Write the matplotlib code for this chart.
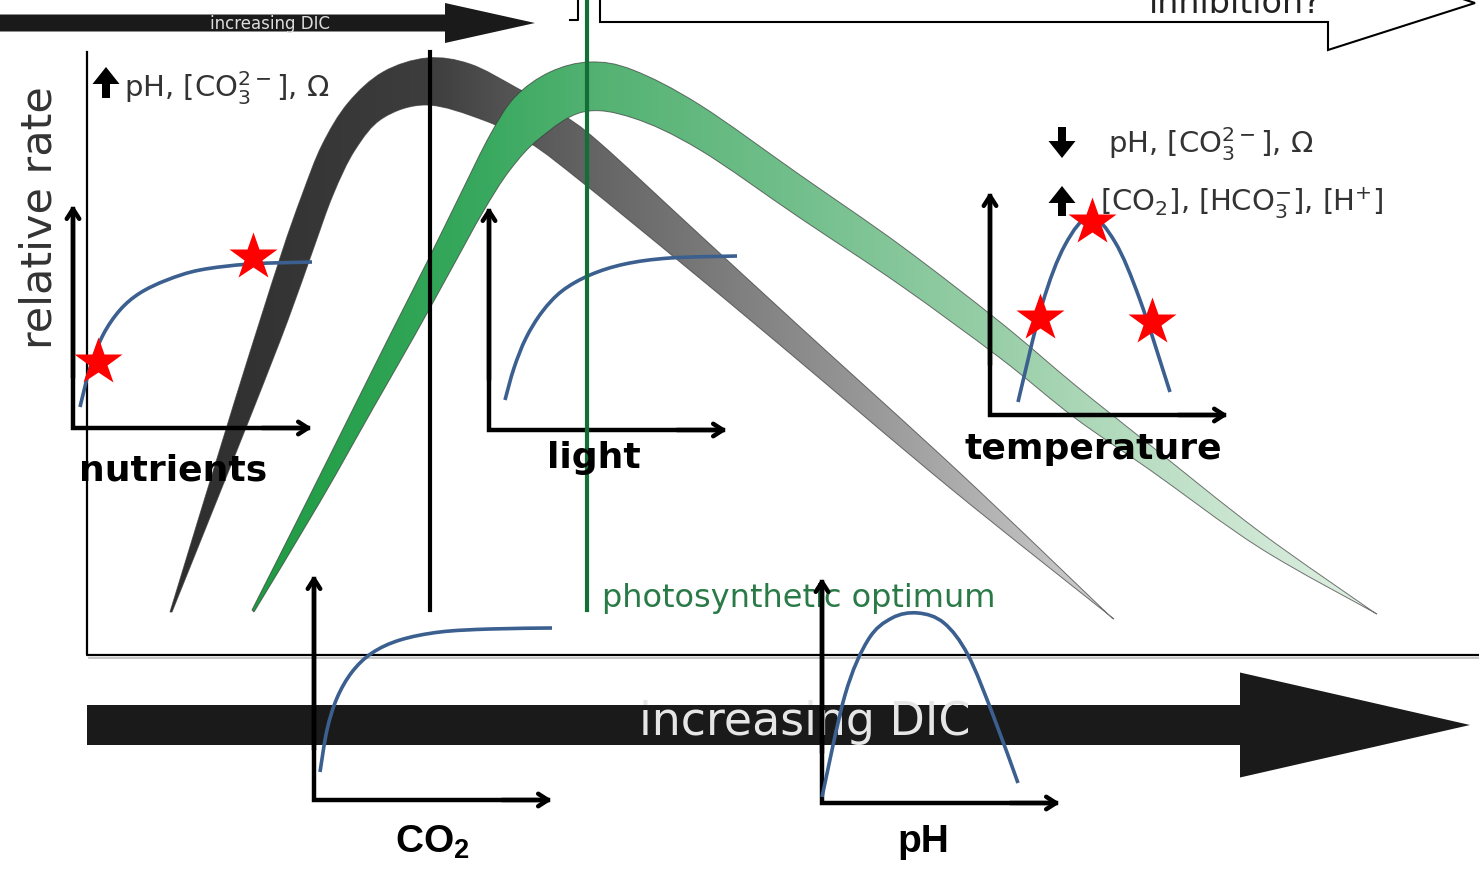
import numpy as np
import matplotlib
matplotlib.use('Agg')
import matplotlib.pyplot as plt
from matplotlib.patches import Polygon, FancyArrow, PathPatch
from matplotlib.path import Path

plt.rcParams['font.family'] = ['DejaVu Sans']
plt.rcParams['mathtext.fontset'] = 'custom'
plt.rcParams['mathtext.rm'] = 'DejaVu Sans'
plt.rcParams['mathtext.it'] = 'DejaVu Sans:italic'
plt.rcParams['mathtext.bf'] = 'Liberation Sans:bold'

# grey band (calcification), outer and inner edge
gray_out_x = [170, 235, 280, 302, 322, 348, 383, 427, 470, 517, 560, 600, 700, 800, 960, 1112]
gray_out_y = [612, 400, 258, 195, 145, 103, 72, 58, 64, 88, 113, 143, 235, 327, 473, 618]
gray_in_x = [172, 215, 255, 288, 313, 333, 355, 383, 427, 483, 530, 583, 680, 780, 950, 1114]
gray_in_y = [612, 505, 405, 320, 250, 195, 150, 118, 105, 120, 143, 183, 262, 345, 488, 619]
gray_ramp_x = [170, 430, 520, 700, 900, 1115]
gray_ramp_v = [0.18, 0.24, 0.34, 0.47, 0.62, 0.82]

# green band (photosynthesis)
green_out_x = [252, 305, 350, 390, 427, 460, 490, 515, 550, 590, 633, 700, 800, 900, 1000, 1075, 1150, 1260, 1375]
green_out_y = [610, 505, 415, 335, 262, 195, 135, 97, 72, 62, 70, 105, 175, 245, 322, 385, 445, 532, 613]
green_in_x = [254, 320, 375, 415, 452, 483, 510, 540, 583, 633, 700, 800, 900, 1000, 1075, 1150, 1260, 1377]
green_in_y = [612, 502, 405, 335, 268, 212, 170, 138, 112, 118, 150, 218, 285, 358, 418, 470, 548, 614]
green_ramp_x = [252, 480, 600, 800, 1000, 1200, 1375]
green_ramp_c = [(0.12, 0.61, 0.26), (0.22, 0.66, 0.37), (0.33, 0.70, 0.45), (0.45, 0.75, 0.55),
                (0.60, 0.81, 0.66), (0.77, 0.89, 0.80), (0.88, 0.94, 0.89)]

# inset response curves
nut_x = [80, 90, 103, 120, 140, 167, 200, 250, 312]
nut_y = [407, 368, 335, 310, 293, 280, 270, 264, 262]
nut_star_x = [98, 253]
nut_star_y = [362, 257]
light_x = [505, 514, 526, 542, 562, 590, 625, 670, 737]
light_y = [400, 368, 338, 312, 291, 275, 264, 258, 256]
temp_x = [1018, 1042, 1065, 1090, 1115, 1140, 1170]
temp_y = [402, 305, 245, 217, 242, 300, 392]
temp_star_x = [1040, 1092, 1152]
temp_star_y = [318, 222, 322]
co2_x = [320, 327, 337, 352, 372, 400, 440, 490, 552]
co2_y = [772, 730, 698, 672, 653, 640, 632, 629, 628]
ph_x = [822, 845, 868, 892, 918, 944, 968, 993, 1018]
ph_y = [797, 695, 640, 618, 613, 623, 655, 715, 783]

# inset axes: corner x, corner y, top y, right x
insets = [(73, 428, 205, 312), (489, 430, 207, 727), (990, 415, 192, 1228),
          (314, 800, 575, 552), (822, 803, 578, 1060)]

blue = '#3b5f8f'
dark_green = '#146e37'

fig = plt.figure(figsize=(14.79, 8.72), dpi=100)
ax = fig.add_axes([0, 0, 1, 1])
ax.set_xlim(0, 1479)
ax.set_ylim(872, 0)
ax.axis('off')


def bezier(xs, ys):
    # cubic bezier pieces through the given points (catmull-rom style)
    p = np.column_stack([xs, ys]).astype(float)
    n = len(p)
    verts = []
    for i in range(n - 1):
        p0, p1, p2, p3 = p[max(i - 1, 0)], p[i], p[i + 1], p[min(i + 2, n - 1)]
        verts += [p1 + (p2 - p0) / 6, p2 - (p3 - p1) / 6, p2]
    return p[0], verts


def curve(xs, ys, **kw):
    start, verts = bezier(xs, ys)
    path = Path([start] + verts, [Path.MOVETO] + [Path.CURVE4] * len(verts))
    ax.add_patch(PathPatch(path, facecolor='none', **kw))


def band(xo, yo, xi, yi, rx, rc, z):
    s1, v1 = bezier(xo, yo)
    s2, v2 = bezier(xi[::-1], yi[::-1])
    verts = [s1] + v1 + [s2] + v2 + [s1]
    codes = ([Path.MOVETO] + [Path.CURVE4] * len(v1) + [Path.LINETO]
             + [Path.CURVE4] * len(v2) + [Path.CLOSEPOLY])
    poly = PathPatch(Path(verts, codes), facecolor='none', edgecolor='#3a3a3a',
                     lw=0.7, alpha=0.7, zorder=z + 0.1)
    ax.add_patch(poly)
    xs = np.r_[xo, xi]
    ys = np.r_[yo, yi]
    ramp = np.linspace(min(xs), max(xs), 600)
    rc = np.array(rc)
    rgb = np.stack([np.interp(ramp, rx, rc[:, k]) for k in range(3)], axis=-1)[None, :, :]
    im = ax.imshow(rgb, extent=[min(xs), max(xs), max(ys) + 5, min(ys) - 5],
                   aspect='auto', zorder=z, interpolation='bilinear')
    im.set_clip_path(poly)


# frame of the main plot
ax.plot([87, 87, 1479], [52, 655, 655], color='black', lw=1.6, zorder=1)
ax.plot([89, 1479], [658, 658], color='#bbbbbb', lw=1.2, zorder=1)

band(gray_out_x, gray_out_y, gray_in_x, gray_in_y, gray_ramp_x,
     [(v, v, v) for v in gray_ramp_v], 2)
band(green_out_x, green_out_y, green_in_x, green_in_y, green_ramp_x, green_ramp_c, 3)

# optimum lines
ax.plot([430, 430], [52, 610], color='black', lw=3, zorder=4)
ax.plot([587, 587], [0, 610], color=dark_green, lw=3, zorder=7)

# big arrow at the bottom
ax.add_patch(FancyArrow(87, 725, 1383, 0, width=40, head_width=105, head_length=230,
                        length_includes_head=True, color='#1a1a1a', lw=0, zorder=2))
ax.text(805, 722, 'increasing DIC', color='#e6e6e6', fontsize=33, ha='center', va='center', zorder=3)

# small arrow at the top left
ax.add_patch(FancyArrow(0, 23, 535, 0, width=17, head_width=40, head_length=90,
                        length_includes_head=True, color='#1a1a1a', lw=0, zorder=2))
ax.text(270, 24, 'increasing DIC', color='#dddddd', fontsize=12, ha='center', va='center', zorder=3)

# inhibition arrow at the top right
ax.plot([570, 578, 578], [20, 20, -2], color='black', lw=1.5, zorder=2)
ax.add_patch(Polygon([(600, -40), (600, 22), (1328, 22), (1328, 50), (1475, 3), (1328, -45)],
                     closed=True, facecolor='white', edgecolor='black', lw=1.5, zorder=2))
ax.text(1235, 13, 'inhibition?', fontsize=24, color='#222222', ha='center', va='baseline', zorder=3)

# inset axes
for cx, cy, ty, rx in insets:
    ax.plot([cx, cx, rx - 4], [ty + 4, cy, cy], color='black', lw=3.2,
            solid_joinstyle='miter', zorder=6)
    ax.annotate('', xy=(cx, ty), xytext=(cx, cy - 50),
                arrowprops=dict(arrowstyle='->,head_length=0.7,head_width=0.45', lw=3.2,
                                color='black', shrinkA=0, shrinkB=0), zorder=6)
    ax.annotate('', xy=(rx, cy), xytext=(rx - 50, cy),
                arrowprops=dict(arrowstyle='->,head_length=0.7,head_width=0.45', lw=3.2,
                                color='black', shrinkA=0, shrinkB=0), zorder=6)

for xs, ys in [(nut_x, nut_y), (light_x, light_y), (temp_x, temp_y), (co2_x, co2_y), (ph_x, ph_y)]:
    curve(xs, ys, edgecolor=blue, lw=2.6, zorder=6, capstyle='butt')

ax.plot(nut_star_x, nut_star_y, ls='none', marker='*', ms=36, color='#ff0000', mec='none', zorder=8)
ax.plot(temp_star_x, temp_star_y, ls='none', marker='*', ms=36, color='#ff0000', mec='none', zorder=8)

# inset labels
lab = dict(fontsize=26, fontweight='bold', ha='center', va='center', zorder=9)
ax.text(173, 470, 'nutrients', **lab)
ax.text(594, 458, 'light', **lab)
ax.text(1093, 449, 'temperature', **lab)
ax.text(432, 842, r'CO$_\mathbf{2}$', family='Liberation Sans', fontsize=28,
        fontweight='bold', ha='center', va='center', zorder=9)
ax.text(923, 842, 'pH', family='Liberation Sans', fontsize=28,
        fontweight='bold', ha='center', va='center', zorder=9)

# y label and annotations
ax.text(40, 218, 'relative rate', rotation=90, fontsize=31, color='#333333',
        ha='center', va='center', zorder=9)
ax.text(602, 598, 'photosynthetic optimum', fontsize=23, color='#2a7a48',
        ha='left', va='center', zorder=5)

chem = r'pH, [CO$_3^{2-}$], Ω'
ax.add_patch(FancyArrow(106, 98, 0, -31, width=8, head_width=27, head_length=17,
                        length_includes_head=True, color='black', lw=0, zorder=9))
ax.text(124, 88, chem, fontsize=21, color='#333333', ha='left', va='center', zorder=9)

ax.add_patch(FancyArrow(1062, 127, 0, 31, width=8, head_width=27, head_length=17,
                        length_includes_head=True, color='black', lw=0, zorder=9))
ax.text(1108, 144, chem, fontsize=21, color='#333333', ha='left', va='center', zorder=9)
ax.add_patch(FancyArrow(1062, 216, 0, -30, width=8, head_width=27, head_length=17,
                        length_includes_head=True, color='black', lw=0, zorder=9))
ax.text(1100, 203, r'[CO$_2$], [HCO$_3^{-}$], [H$^{+}$]', fontsize=21, color='#333333',
        ha='left', va='center', zorder=9)

fig.savefig('out.png', dpi=100)
